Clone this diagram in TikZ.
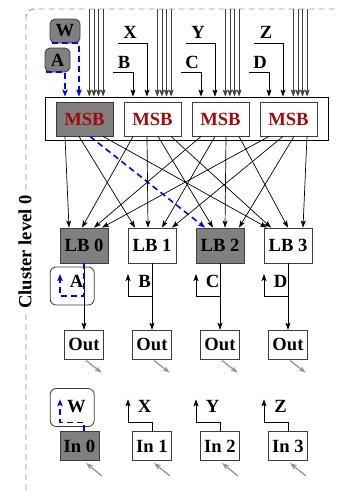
\documentclass[tikz,border=0pt]{standalone}
\usepackage{fontspec}
\setmainfont{Liberation Serif}
\usetikzlibrary{arrows.meta}
\definecolor{msbred}{RGB}{165,10,10}
\definecolor{boxgray}{RGB}{128,128,128}
\definecolor{edgegray}{RGB}{60,60,60}
\definecolor{lightgray}{RGB}{150,150,150}
\begin{document}
\begin{tikzpicture}[x=1pt,y=-1pt,
  every node/.style={font=\fontsize{18.6}{20}\selectfont\bfseries},
  box/.style={draw=edgegray, line width=0.8pt, inner sep=0pt, fill=white},
  gbox/.style={box, fill=boxgray},
  arr/.style={-{Stealth[length=7pt,width=5pt,inset=1.5pt]}, line width=0.7pt, draw=black},
  inarr/.style={arr, draw=black!75},
  bluearr/.style={draw=blue, dash pattern=on 6pt off 4pt, line width=1.6pt, -{Stealth[length=7pt,width=5.5pt,inset=1.5pt]}},
  garr/.style={draw=lightgray, line width=1.3pt, -{Stealth[length=7pt,width=5pt,inset=1.5pt]}},
  fbbox/.style={draw=edgegray, line width=0.8pt, fill=white, rounded corners=6pt, minimum width=44pt, minimum height=38pt, inner sep=0pt},
  msbbox/.style={minimum width=57pt, minimum height=34pt, text=msbred},
  lbbox/.style={minimum width=48pt, minimum height=35pt},
  iobox/.style={minimum width=39pt, minimum height=29pt}
]
\useasboundingbox (0,0) rectangle (339,493);

% cluster border and label
\draw[draw=lightgray, line width=0.9pt, dash pattern=on 6pt off 4pt, rounded corners=8pt] (26,490) -- (26,9) -- (339,9);
\node[rotate=90, fill=white, inner sep=4pt] (clabel) at (25,252) {Cluster level 0};

% MSB frame and boxes
\node[draw=black, line width=0.8pt, minimum width=283pt, minimum height=43pt, inner sep=0pt] (frame) at (186.5,118.5) {};
\node[gbox, msbbox] (msb0) at (84.5,119) {MSB};
\node[box, msbbox] (msb1) at (152.5,119) {MSB};
\node[box, msbbox] (msb2) at (220.5,119) {MSB};
\node[box, msbbox] (msb3) at (288.5,119) {MSB};

% top input bundles
\foreach \i/\m in {0/84.5,1/152.5,2/220.5,3/288.5}{
  \foreach \k/\d in {1/4.8,2/9.4,3/14,4/18.6}{
    \coordinate (top\i-\k) at (\m+\d,9);
    \draw[inarr] (top\i-\k) -- (top\i-\k |- frame.north);
  }
}

% top labels
\foreach \i/\m/\u/\l in {1/152.5/X/B,2/220.5/Y/C,3/288.5/Z/D}{
  \node (up\i) at (\m-22.5,32) {\u};
  \node (lo\i) at (\m-28.5,62) {\l};
  \coordinate (us\i) at (\m-34.5,43);
  \coordinate (ut\i) at (\m-5.5,43);
  \coordinate (ls\i) at (\m-39.5,72);
  \coordinate (lt\i) at (\m-19.5,72);
  \draw[arr] (us\i) -- (ut\i) -- (ut\i |- frame.north);
  \draw[arr] (ls\i) -- (lt\i) -- (lt\i |- frame.north);
}
\node[gbox, rounded corners=5pt, minimum width=30pt, minimum height=24pt] (up0) at (65,31) {W};
\node[gbox, rounded corners=5pt, minimum width=25pt, minimum height=24pt] (lo0) at (57.5,60) {A};
\coordinate (us0) at (52,43); \coordinate (ut0) at (79,43);
\coordinate (ls0) at (45.7,72); \coordinate (lt0) at (65,72);
\draw[bluearr] (us0) -- (ut0) -- (ut0 |- frame.north);
\draw[bluearr] (ls0) -- (lt0) -- (lt0 |- frame.north);

% LB boxes
\node[gbox, lbbox] (lb0) at (84,245.5) {LB 0};
\node[box, lbbox] (lb1) at (152,245.5) {LB 1};
\node[gbox, lbbox] (lb2) at (220,245.5) {LB 2};
\node[box, lbbox] (lb3) at (288,245.5) {LB 3};

% crossbar
\foreach \i/\j/\e/\n in {0/0/-19.5/-15, 0/1/-5.5/-17, 0/3/18.5/-21,
  1/0/-19.5/-2, 1/1/-5.5/-4, 1/2/5.5/-7, 1/3/18.5/-17,
  2/0/-19.5/10, 2/1/-5.5/10, 2/2/5.5/5, 2/3/18.5/0,
  3/0/-19.5/18, 3/1/-5.5/20, 3/2/5.5/19, 3/3/18.5/15}
  \draw[arr] ([xshift=\e pt]msb\i.south) -- ([xshift=\n pt]lb\j.north);
\draw[bluearr] ([xshift=5.5pt]msb0.south) -- ([xshift=-15pt]lb2.north);

% Out boxes and feedback
\node[fbbox] (fbox0) at (72.2,286) {};
\foreach \i/\c in {0/84,1/152,2/220,3/288}{
  \node[box, iobox] (out\i) at (\c,344.7) {Out};
  \draw[arr] (lb\i.south) -- (out\i.north);
  \coordinate (br\i) at (\c,296);
  \coordinate (fb\i) at (\c-24,274);
  \coordinate (os\i) at (\c+2,360.5);
  \coordinate (oe\i) at (\c+17.7,372.7);
  \draw[garr] (os\i) -- (oe\i);
}
\foreach \i/\c/\l in {1/152/B,2/220/C,3/288/D}{
  \node (fl\i) at (\c-7.5,281) {\l};
  \draw[arr] (br\i) -| (fb\i);
}
\node (fl0) at (76.5,281) {A};
\draw[bluearr] (lb0.south) -- (br0) -| (fb0);

% In boxes
\node[fbbox] (fboxw) at (72.2,407.5) {};
\node[gbox, iobox] (in0) at (79.5,446.3) {In 0};
\node[box, iobox] (in1) at (152,446.3) {In 1};
\node[box, iobox] (in2) at (220,446.3) {In 2};
\node[box, iobox] (in3) at (288,446.3) {In 3};
\foreach \i/\c in {0/84,1/152,2/220,3/288}{
  \coordinate (ib\i) at (\c,422.3);
  \coordinate (if\i) at (\c-24,399.3);
  \coordinate (is\i) at (\c+18,476);
  \coordinate (ie\i) at (\c+2,463);
  \draw[garr] (is\i) -- (ie\i);
}
\foreach \i/\c/\l in {1/152/X,2/220/Y,3/288/Z}{
  \node (il\i) at (\c-7.5,406.7) {\l};
  \draw[arr] (ib\i |- in\i.north) -- (ib\i) -| (if\i);
}
\node (il0) at (76.5,406.7) {W};
\draw[bluearr] (ib0 |- in0.north) -- (ib0) -| (if0);
\end{tikzpicture}
\end{document}
